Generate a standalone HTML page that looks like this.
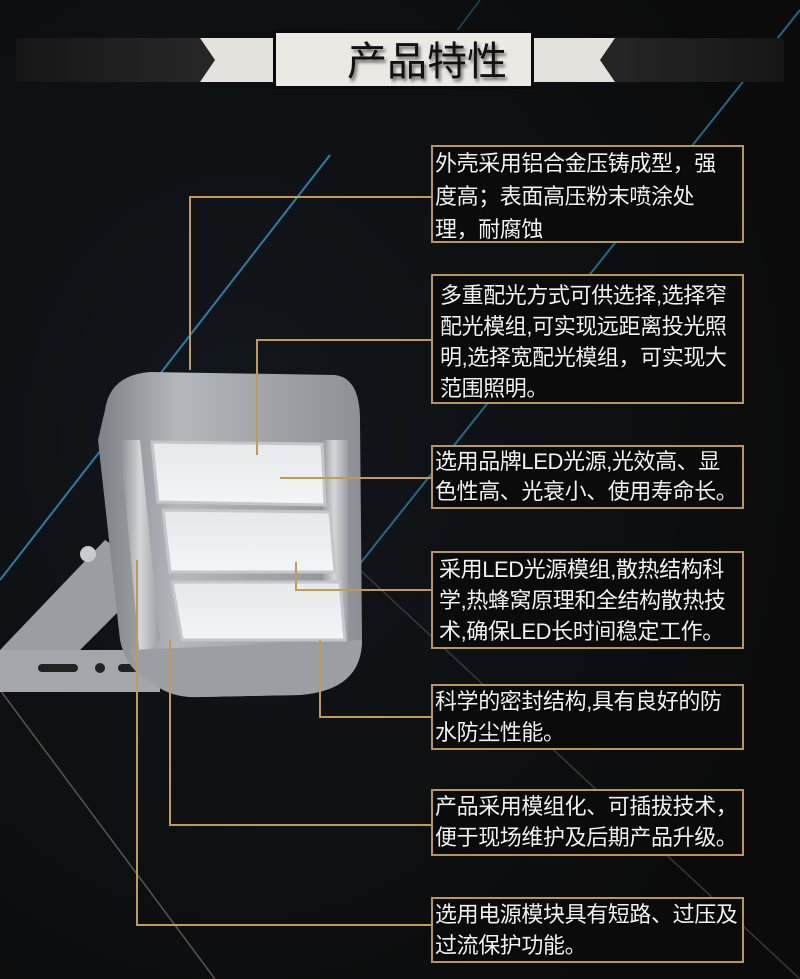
<!DOCTYPE html>
<html><head><meta charset="utf-8"><style>
html,body{margin:0;padding:0;}
body{width:800px;height:979px;overflow:hidden;background:#0d0d0d;position:relative;font-family:"Liberation Sans","Noto Sans CJK SC",sans-serif;}
.box{position:absolute;left:431px;width:313px;border:2px solid #b8965a;background:#0b0b0b;color:#f2f2f2;font-size:22px;line-height:32px;padding:0 0 0 2px;box-sizing:border-box;text-shadow:1px 1px 1px #000;white-space:nowrap;overflow:hidden;letter-spacing:-0.4px;}
svg{position:absolute;left:0;top:0;}
</style></head><body>
<svg width="800" height="979" viewBox="0 0 800 979">
<defs>
<radialGradient id="bg" cx="0.3" cy="0.45" r="0.7"><stop offset="0" stop-color="#12171c"/><stop offset="1" stop-color="#0b0b0b"/></radialGradient>
<linearGradient id="band" x1="0" x2="1"><stop offset="0" stop-color="#161616"/><stop offset="0.3" stop-color="#2a2a2a"/><stop offset="0.7" stop-color="#2a2a2a"/><stop offset="1" stop-color="#161616"/></linearGradient>
<linearGradient id="body" x1="0" x2="1"><stop offset="0" stop-color="#7d8084"/><stop offset="0.3" stop-color="#b4b7bb"/><stop offset="1" stop-color="#8d9094"/></linearGradient>
<linearGradient id="led" x1="0" y1="0" x2="0" y2="1"><stop offset="0" stop-color="#e6e8ea"/><stop offset="1" stop-color="#f4f5f6"/></linearGradient>
<linearGradient id="rib" x1="0" x2="1"><stop offset="0" stop-color="#8a8d91"/><stop offset="0.5" stop-color="#d4d6d8"/><stop offset="1" stop-color="#9a9da1"/></linearGradient>
</defs>
<rect width="800" height="979" fill="url(#bg)"/>
<line x1="0" y1="580" x2="330" y2="155" stroke="#2a7ea8" stroke-width="2"/>
<line x1="355" y1="570" x2="800" y2="10" stroke="#2a7ea8" stroke-width="2" opacity="0.8"/>
<line x1="480" y1="0" x2="420" y2="80" stroke="#2a7ea8" stroke-width="1.5" opacity="0.5"/>
<line x1="0" y1="690" x2="215" y2="979" stroke="#5a5550" stroke-width="1.5"/>
<line x1="360" y1="570" x2="800" y2="979" stroke="#3a3835" stroke-width="1.5"/>
<rect x="16" y="38" width="768" height="44" fill="url(#band)"/>
<polygon points="200,38 278,38 278,82 200,82 215,60" fill="#e4e2dc"/>
<polygon points="530,38 615,38 600,60 615,82 530,82" fill="#e4e2dc"/>
<rect x="273" y="30" width="261" height="59" fill="#0a0a0a"/>
<rect x="276" y="33" width="255" height="53" fill="#ebe9e3"/>
<text x="427" y="75" text-anchor="middle" font-family="Liberation Sans,Noto Sans CJK SC,sans-serif" font-size="40" fill="#111" style="text-shadow:2px 3px 3px #666">产品特性</text>
<polygon points="0,650 105,540 135,560 130,600 40,690 0,690" fill="#9a9da1"/>
<rect x="0" y="650" width="160" height="42" fill="#a3a6aa"/>
<rect x="38" y="664" width="40" height="8" rx="4" fill="#222"/>
<circle cx="100" cy="668" r="5" fill="#222"/>
<rect x="118" y="664" width="20" height="8" rx="4" fill="#222"/>
<circle cx="88" cy="554" r="8" fill="#c9cbcd"/>
<path d="M105,410 Q110,375 150,372 L335,375 Q360,378 360,420 L362,640 Q362,690 300,695 L200,697 Q130,690 120,640 L98,440 Z" fill="url(#body)"/>
<path d="M120,440 L140,440 L160,640 L140,660 Z" fill="url(#rib)"/>
<rect x="320" y="440" width="28" height="215" fill="url(#rib)"/>
<path d="M130,650 Q150,700 200,697 L300,695 Q362,690 362,640 Z" fill="#9b9ea2"/>
<polygon points="152,442 322,444 325,505 158,502" fill="url(#led)" stroke="#c4c6c8" stroke-width="3"/>
<polygon points="163,510 330,512 335,572 170,572" fill="url(#led)" stroke="#c4c6c8" stroke-width="3"/>
<polygon points="172,582 340,582 345,640 182,640" fill="url(#led)" stroke="#c4c6c8" stroke-width="3"/>
<g stroke="#c39a55" stroke-width="2" fill="none">
<polyline points="190,370 190,197 432,197"/>
<polyline points="257,455 257,340 432,340"/>
<line x1="280" y1="478" x2="432" y2="478"/>
<polyline points="296,562 296,590 432,590"/>
<polyline points="320,640 320,717 432,717"/>
<polyline points="170,640 170,825 432,825"/>
<polyline points="137,560 137,925 432,925"/>
</g>
</svg>
<div class="box" style="top:145px;height:98px;line-height:33px;">外壳采用铝合金压铸成型，强<br>度高；表面高压粉末喷涂处<br>理，耐腐蚀</div>
<div class="box" style="top:274px;height:130px;padding:4px 0 0 7px;line-height:31px;">多重配光方式可供选择,选择窄<br>配光模组,可实现远距离投光照<br>明,选择宽配光模组，可实现大<br>范围照明。</div>
<div class="box" style="top:445px;height:64px;line-height:30px;">选用品牌LED光源,光效高、显<br>色性高、光衰小、使用寿命长。</div>
<div class="box" style="top:551px;height:98px;padding:1px 0 0 6px;line-height:31px;">采用LED光源模组,散热结构科<br>学,热蜂窝原理和全结构散热技<br>术,确保LED长时间稳定工作。</div>
<div class="box" style="top:684px;height:66px;line-height:31px;">科学的密封结构,具有良好的防<br>水防尘性能。</div>
<div class="box" style="top:789px;height:67px;line-height:31px;">产品采用模组化、可插拔技术，<br>便于现场维护及后期产品升级。</div>
<div class="box" style="top:897px;height:66px;line-height:31px;">选用电源模块具有短路、过压及<br>过流保护功能。</div>
</body></html>
